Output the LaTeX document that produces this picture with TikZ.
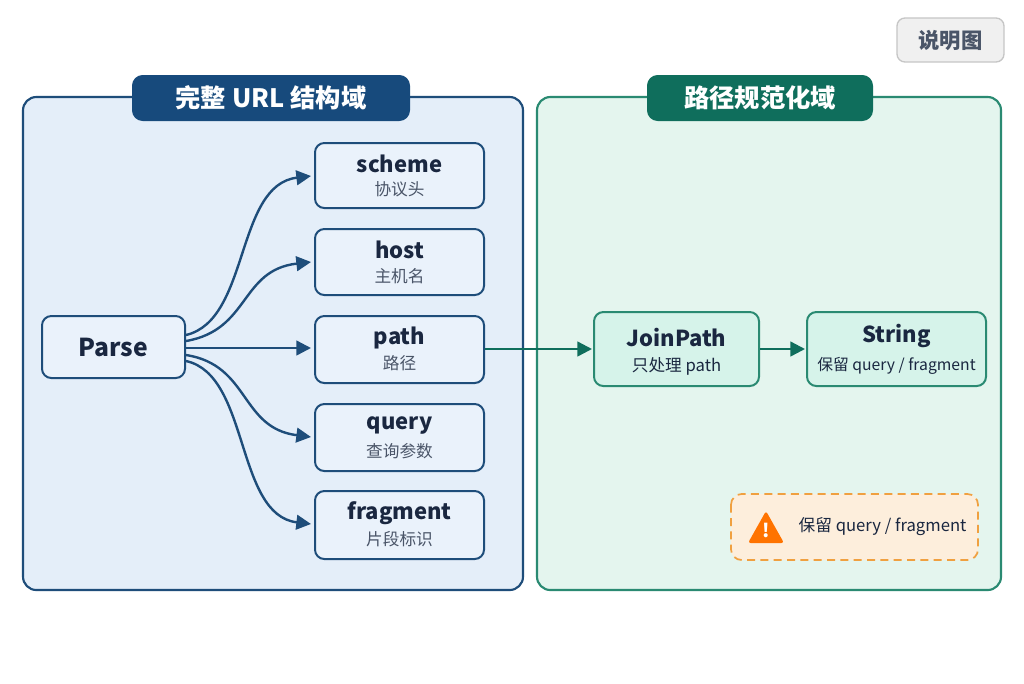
\documentclass[tikz,border=0pt]{standalone}
\usepackage{fontspec}
\setmainfont{Noto Sans CJK SC}
\usetikzlibrary{arrows.meta}
\definecolor{navy}{HTML}{1E4D7A}
\definecolor{navyd}{HTML}{174A7C}
\definecolor{lblue}{HTML}{E4EEF9}
\definecolor{nblue}{HTML}{EAF2FB}
\definecolor{teal1}{HTML}{2A8A72}
\definecolor{teald}{HTML}{0F6E5C}
\definecolor{lgreen}{HTML}{E4F5EE}
\definecolor{ngreen}{HTML}{D6F3EA}
\definecolor{txt}{HTML}{1A2740}
\definecolor{sub}{HTML}{4A5568}
\definecolor{orng}{HTML}{F0A040}
\definecolor{lorng}{HTML}{FDEEDC}
\begin{document}
\begin{tikzpicture}[x=0.75pt,y=-0.75pt,
  panel/.style={draw,line width=1.6pt,rounded corners=10pt},
  title/.style={rounded corners=8pt,text=white,font=\bfseries\fontsize{19}{22}\selectfont},
  box/.style={draw=navy,fill=nblue,line width=1.5pt,rounded corners=7pt},
  gbox/.style={draw=teal1,fill=ngreen,line width=1.5pt,rounded corners=7pt},
  arr/.style={navy,line width=1.8pt,-{Triangle[length=11pt,width=11pt]}},
  main/.style={font=\bfseries\fontsize{16.5}{19}\selectfont,text=txt},
  subt/.style={font=\fontsize{12.5}{15}\selectfont,text=sub}]
\useasboundingbox (0,0) rectangle (1024,683);
\fill[white] (0,0) rectangle (1024,683);
% explain button
\draw[fill=gray!12,draw=gray!45,line width=1pt,rounded corners=6pt] (897,18) rectangle (1004,62);
\node[text=sub,font=\bfseries\fontsize{16}{18}\selectfont] (sm) at (950.5,40) {说明图};
% panels
\draw[panel,draw=navy,fill=lblue] (23,97) rectangle (523,590);
\draw[panel,draw=teal1,fill=lgreen] (537,97) rectangle (1001,590);
\fill[navyd,rounded corners=8pt] (132,75) rectangle (410,121);
\node[title] (t1) at (271,98) {完整 URL 结构域};
\fill[teald,rounded corners=8pt] (647,75) rectangle (873,121);
\node[title] (t2) at (760,98) {路径规范化域};
% parse
\draw[box] (42,316) rectangle (185,378);
\node[font=\bfseries\fontsize{18.5}{22}\selectfont,text=txt] (parse) at (113.5,347) {Parse};
% field nodes
\foreach \n/\ya/\yb/\m/\s in {scheme/143/208/scheme/协议头, host/229/295/host/主机名, path/316/383/path/路径, query/404/471/query/查询参数, fragment/491/559/fragment/片段标识}{
  \draw[box] (315,\ya) rectangle (484,\yb);
  \coordinate (\n) at (315,{(\ya+\yb)/2});
  \node[main] (\n m) at (399.5,{(\ya+\yb)/2-12}) {\m};
  \node[subt] (\n s) at (399.5,{(\ya+\yb)/2+14}) {\s};
}
\coordinate (p1) at (186,335);
\coordinate (p2) at (186,341);
\coordinate (p3) at (186,348);
\coordinate (p4) at (186,355);
\coordinate (p5) at (186,361);
\draw[arr] (p1) .. controls (250,320) and (235,185) .. (311,176);
\draw[arr] (p2) .. controls (250,330) and (240,270) .. (311,262);
\draw[arr] (p3) -- (311,348);
\draw[arr] (p4) .. controls (250,365) and (240,428) .. (311,437);
\draw[arr] (p5) .. controls (250,375) and (235,515) .. (311,524);
% right nodes
\draw[gbox] (594,312) rectangle (759,386);
\node[main] (jp) at (676.5,338) {JoinPath};
\node[subt,text=txt] (jps) at (676.5,366) {只处理 path};
\draw[gbox] (807,312) rectangle (986,386);
\node[main] (st) at (896.5,336) {String};
\node[subt,text=txt,font=\fontsize{11.8}{14}\selectfont] (sts) at (896.5,366) {保留 query / fragment};
\coordinate (pathR) at (485,349);
\coordinate (jpL) at (592,349);
\coordinate (jpR) at (760,349);
\coordinate (stL) at (805,349);
\draw[line width=1.8pt,color=teald,-{Triangle[length=11pt,width=11pt]}] (pathR) -- (jpL);
\draw[line width=1.8pt,color=teald,-{Triangle[length=11pt,width=11pt]}] (jpR) -- (stL);
% warning
\draw[orng,fill=lorng,line width=1.3pt,dashed,dash pattern=on 6pt off 4pt,rounded corners=8pt] (731,494) rectangle (978,560);
\fill[orange!90!red,rounded corners=2pt] (766,511) -- (784,543) -- (748,543) -- cycle;
\node[text=white,font=\bfseries\fontsize{14}{14}\selectfont] (ex) at (766,530) {!};
\node[font=\fontsize{12.5}{15}\selectfont,text=txt,anchor=west] (wt) at (794,527) {保留 query / fragment};
\end{tikzpicture}
\end{document}
